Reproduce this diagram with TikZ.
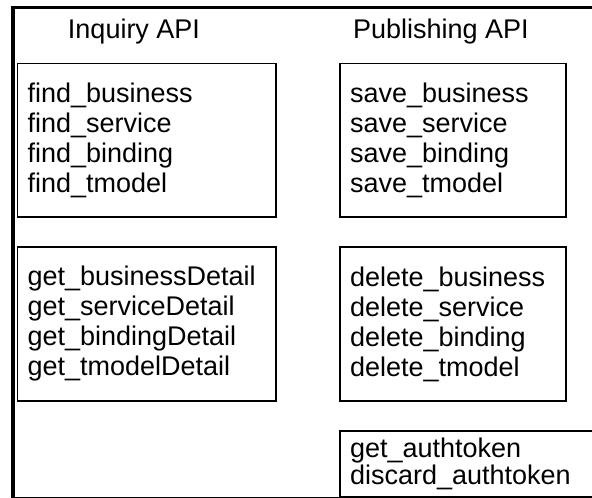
\documentclass[tikz,border=0pt]{standalone}
\usepackage{fontspec}
\setmainfont{Liberation Sans}
\begin{document}
\begin{tikzpicture}[x=1pt,y=-1pt,
  apibox/.style={draw=black, line width=1.1pt, rectangle, inner xsep=10pt, inner ysep=0pt,
    align=left, font=\fontsize{27}{30}\selectfont},
  titletext/.style={font=\fontsize{27}{30}\selectfont, inner sep=0pt}]
\useasboundingbox (0,0) rectangle (592,498);
% frame
\draw[line width=3pt] (13,7) -- (596,7);
\draw[line width=3.5pt] (13,5.5) -- (13,500);
\draw[line width=1pt] (13,497) -- (596,497);
% titles
\node[titletext] (inq) at (134,32) {Inquiry API};
\node[titletext] (pub) at (441,32) {Publishing API};
% boxes
\node[apibox, minimum width=258.5pt, minimum height=153.5pt, text width=238.5pt] (find) at (146.75,140.25)
  {find\_business\\find\_service\\find\_binding\\find\_tmodel};
\node[apibox, minimum width=258.5pt, minimum height=154pt, text width=238.5pt] (get) at (146.75,324)
  {get\_businessDetail\\get\_serviceDetail\\get\_bindingDetail\\get\_tmodelDetail};
\node[apibox, minimum width=226pt, minimum height=153.5pt, text width=206pt] (save) at (453,140.25)
  {save\_business\\save\_service\\save\_binding\\save\_tmodel};
\node[apibox, minimum width=226pt, minimum height=154pt, text width=206pt] (delete) at (453,324)
  {delete\_business\\delete\_service\\delete\_binding\\delete\_tmodel};
\node[apibox, font=\fontsize{27}{27.5}\selectfont, minimum width=256pt, minimum height=66pt, text width=236pt] (auth) at (468,464)
  {get\_authtoken\\discard\_authtoken};
\end{tikzpicture}
\end{document}
